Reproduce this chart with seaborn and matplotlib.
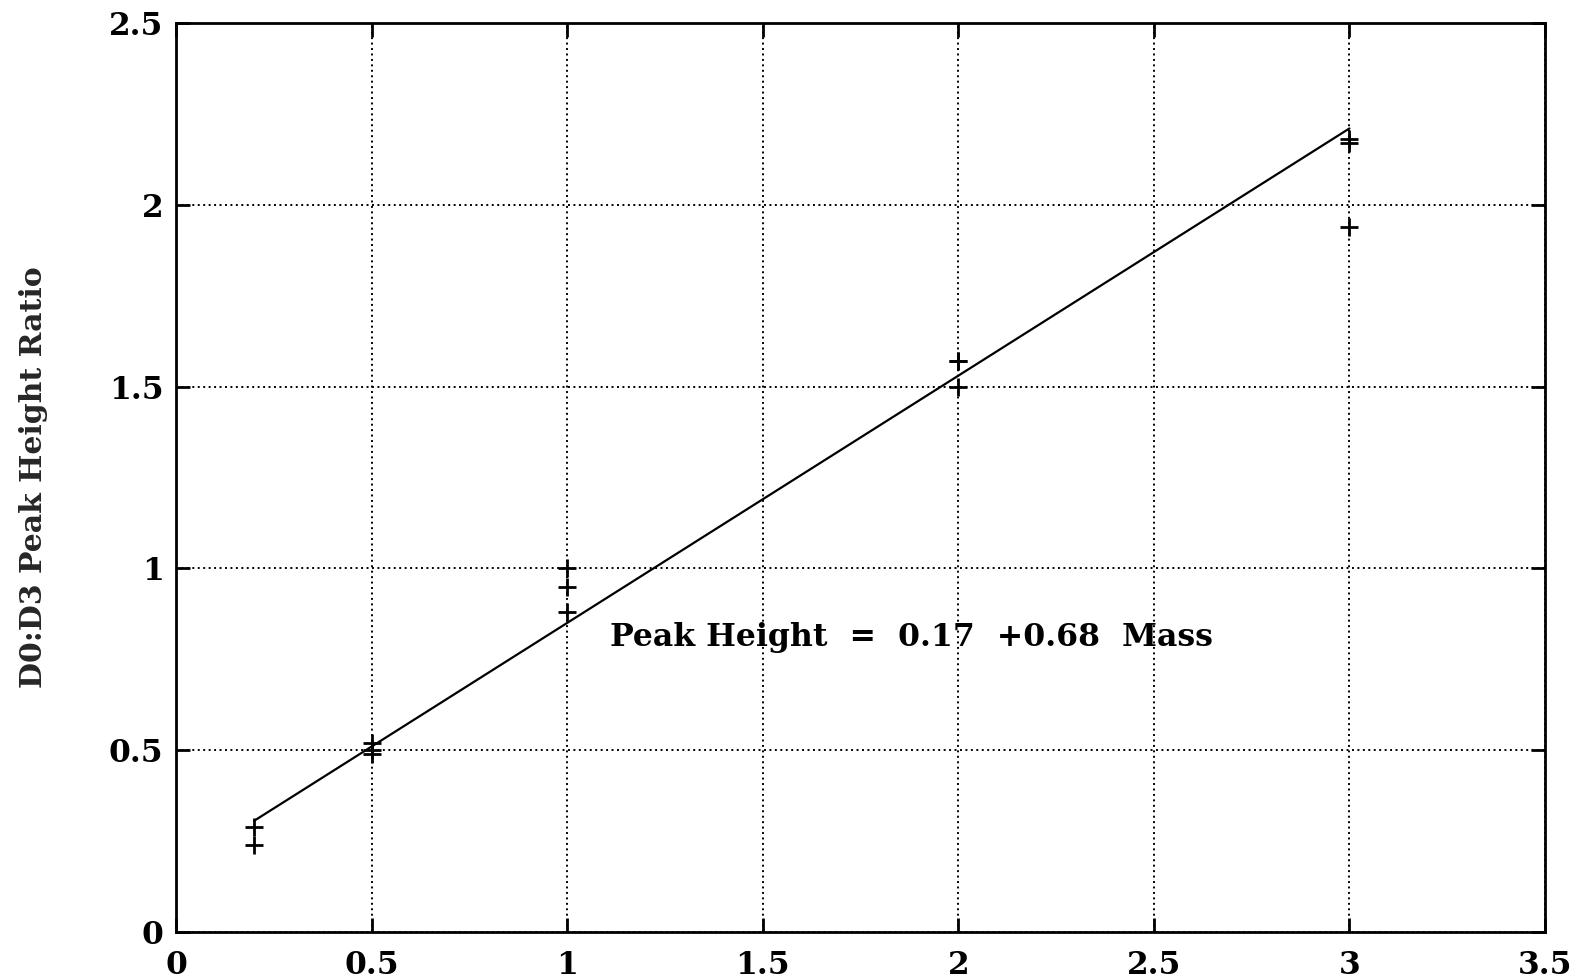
import matplotlib
matplotlib.use("Agg")
import matplotlib.pyplot as plt
import seaborn as sns
import pandas as pd

# Calibration measurements: spiked mass vs. D0:D3 peak height ratio
mass = [0.2, 0.2, 0.5, 0.5, 0.5, 1.0, 1.0, 1.0, 2.0, 2.0, 2.0, 3.0, 3.0, 3.0]
ratio = [0.29, 0.24, 0.52, 0.50, 0.49, 1.00, 0.95, 0.88, 1.57, 1.57, 1.50, 2.18, 2.17, 1.94]

# Least-squares line reported on the chart
intercept = 0.17
slope = 0.68
fit_range = [0.2, 3.0]

x_ticks = [0, 0.5, 1, 1.5, 2, 2.5, 3, 3.5]
x_tick_labels = ["0", "0.5", "1", "1.5", "2", "2.5", "3", "3.5"]
y_ticks = [0, 0.5, 1, 1.5, 2, 2.5]
y_tick_labels = ["0", "0.5", "1", "1.5", "2", "2.5"]

sns.set_style("white")
plt.rcParams["font.family"] = ["DejaVu Serif"]
plt.rcParams["font.weight"] = "bold"

fig = plt.figure(figsize=(15.77, 9.80), dpi=100)
ax = fig.add_axes([176 / 1577, 1 - 932 / 980, (1545 - 176) / 1577, (932 - 23) / 980])

points = pd.DataFrame({"mass": mass, "ratio": ratio})
fit = pd.DataFrame({"mass": fit_range,
                    "ratio": [intercept + slope * m for m in fit_range]})

sns.lineplot(data=fit, x="mass", y="ratio", ax=ax, color="black", linewidth=1.6)
sns.scatterplot(data=points, x="mass", y="ratio", ax=ax, marker="+",
                s=150, color="black", linewidth=2.0)

ax.set_xlim(0, 3.5)
ax.set_ylim(0, 2.5)
ax.set_xticks(x_ticks)
ax.set_xticklabels(x_tick_labels)
ax.set_yticks(y_ticks)
ax.set_yticklabels(y_tick_labels)

ax.grid(True, color="black", linestyle=(0, (1, 1.8)), linewidth=1.4)
ax.set_axisbelow(True)
for side in ["left", "right", "top", "bottom"]:
    ax.spines[side].set_visible(True)
    ax.spines[side].set_color("black")
    ax.spines[side].set_linewidth(2.0)

ax.tick_params(axis="both", which="both", direction="in", length=10, width=2,
               top=True, right=True, bottom=True, left=True,
               labelsize=22.5, colors="black")
ax.tick_params(axis="y", pad=9)
ax.tick_params(axis="x", pad=13)
for lab in ax.get_xticklabels() + ax.get_yticklabels():
    lab.set_fontweight("bold")

ax.set_xlabel("")
ax.set_ylabel("D0:D3 Peak Height Ratio", fontsize=21.5, fontweight="bold",
              labelpad=0)
ax.yaxis.set_label_coords(-128 / 1369, 0.5)

ax.text(1.11, 0.81, "Peak Height  =  0.17  +0.68  Mass", fontsize=22.7,
        fontweight="bold", ha="left", va="center", color="black")

fig.savefig("out.png", dpi=100, facecolor="white")
